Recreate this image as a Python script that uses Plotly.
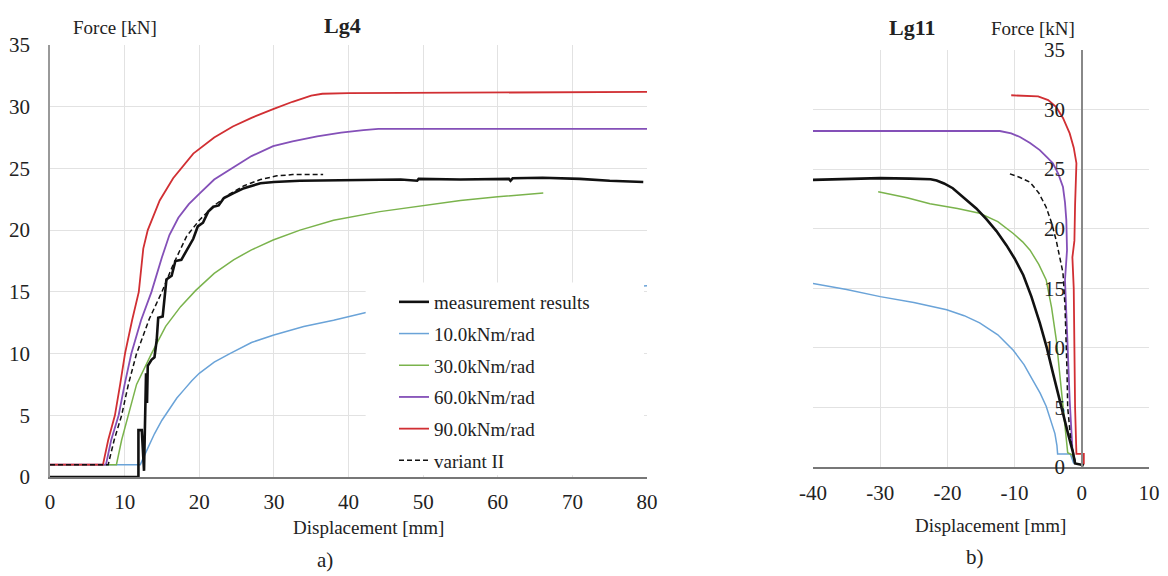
import plotly.graph_objects as go

# ---------------- Lg4 (left panel) ----------------
lg4_meas_x = [0, 11.85, 11.85, 12.3, 12.6, 12.87, 13.0, 13.1, 13.6, 14.0, 14.3, 14.5, 15.1, 15.6,
              16.3, 16.8, 17.6, 18.3, 19.2, 19.8, 20.5, 21.2, 21.9, 22.6, 23.3, 24.6, 26.0, 28.2,
              30.0, 33.5, 40.0, 47.0, 49.2, 49.4, 55.0, 61.5, 61.7, 62.0, 66.0, 71.0, 75.0, 79.5]
lg4_meas_y = [0, 0, 3.8, 3.8, 0.5, 8.4, 6.0, 9.0, 9.5, 9.7, 11.1, 12.9, 13.0, 16.0,
              16.3, 17.5, 17.6, 18.3, 19.3, 20.3, 20.6, 21.5, 21.9, 22.0, 22.6, 23.0, 23.4, 23.8,
              23.9, 24.0, 24.05, 24.1, 24.0, 24.15, 24.1, 24.15, 24.0, 24.2, 24.25, 24.15, 24.0, 23.9]

lg4_k10_x = [0, 12.1, 13.0, 14.0, 15.0, 16.0, 17.0, 18.0, 19.0, 20.0, 22.0, 24.1, 27.0, 30.0,
             34.0, 38.0, 42.2, 50.0, 60.0, 70.0, 80.0]
lg4_k10_y = [1, 1, 2.2, 3.5, 4.6, 5.5, 6.4, 7.1, 7.8, 8.4, 9.3, 10.0, 10.9, 11.5,
             12.2, 12.7, 13.3, 14.0, 14.7, 15.1, 15.5]

lg4_k30_x = [0, 8.9, 9.6, 10.5, 11.6, 13.6, 15.5, 17.5, 19.5, 22.0, 24.6, 27.0, 29.9, 33.5,
             38.0, 44.2, 50.0, 55.0, 60.0, 66.1]
lg4_k30_y = [1, 1, 3.0, 5.0, 7.5, 10.0, 12.2, 13.8, 15.1, 16.5, 17.6, 18.4, 19.2, 20.0,
             20.8, 21.5, 22.0, 22.4, 22.7, 23.0]

lg4_k60_x = [0, 7.5, 8.2, 9.2, 10.0, 10.9, 12.2, 13.6, 15.0, 16.0, 17.2, 18.6, 20.1, 22.0,
             24.6, 27.0, 29.9, 32.5, 35.8, 39.0, 42.0, 44.0, 60.0, 80.0]
lg4_k60_y = [1, 1, 3.0, 5.0, 7.5, 10.0, 12.7, 15.0, 17.8, 19.6, 21.0, 22.1, 23.0, 24.1,
             25.1, 26.0, 26.8, 27.2, 27.6, 27.9, 28.1, 28.2, 28.2, 28.2]

lg4_k90_x = [0, 7.1, 7.8, 8.7, 9.4, 10.05, 11.0, 11.9, 12.5, 13.1, 14.7, 16.5, 19.2, 22.0,
             24.5, 27.0, 29.9, 32.5, 35.0, 36.5, 40.0, 60.0, 80.0]
lg4_k90_y = [1, 1, 3.0, 5.0, 7.5, 10.0, 12.7, 15.0, 18.5, 20.0, 22.4, 24.2, 26.2, 27.5,
             28.4, 29.1, 29.8, 30.4, 30.9, 31.05, 31.1, 31.15, 31.2]

lg4_var2_x = [0, 7.8, 8.6, 9.6, 10.5, 11.6, 13.3, 15.0, 16.5, 18.3, 20.0, 22.0, 24.0, 26.0,
              28.2, 30.4, 32.5, 36.6]
lg4_var2_y = [1, 1, 3.0, 5.0, 7.5, 10.0, 12.8, 15.0, 17.2, 19.5, 20.8, 22.0, 22.9, 23.6,
              24.1, 24.4, 24.5, 24.5]

# ---------------- Lg11 (right panel) ----------------
lg11_meas_x = [-40, -33, -30, -25.6, -22.5, -21.6, -20.5, -19.2, -18.2, -17.2, -16.4, -15.7, -14.2,
               -12.7, -11.2, -10.0, -8.7, -7.5, -6.25, -5.2, -4.3, -3.5, -2.8, -2.0, -1.3, -1.0, 0.3]
lg11_meas_y = [24.1, 24.2, 24.25, 24.2, 24.15, 24.05, 23.8, 23.4, 22.9, 22.4, 22.0, 21.7, 20.8,
               19.8, 18.6, 17.5, 16.1, 14.3, 12.1, 10.0, 7.9, 6.0, 4.5, 2.7, 1.2, 0.3, 0.15]

lg11_k10_x = [-40, -35, -30, -25, -20.1, -17.5, -15.2, -12.5, -10.2, -8.6, -7.3, -6.2, -5.3,
              -4.5, -4.0, -3.7, -3.6, -1.7, -1.2]
lg11_k10_y = [15.4, 14.9, 14.3, 13.8, 13.2, 12.7, 12.1, 11.1, 9.8, 8.6, 7.3, 6.2, 5.1,
              3.8, 2.8, 1.8, 1.1, 1.1, 0.3]

lg11_k30_x = [-30.3, -26, -22.6, -18.5, -15.2, -12.5, -10.2, -8.8, -7.7, -6.4, -5.3, -4.5,
              -3.8, -3.3, -2.8, -2.4, -2.1, -1.4, -1.0]
lg11_k30_y = [23.1, 22.6, 22.1, 21.7, 21.3, 20.6, 19.6, 18.9, 18.2, 17.0, 15.7, 13.4,
              10.7, 8.0, 5.1, 3.0, 1.2, 1.0, 0.3]

lg11_k60_x = [-40, -12.2, -10.5, -9.2, -7.7, -6.25, -5.2, -4.3, -3.5, -2.8, -2.5, -2.3, -2.2,
              -2.5, -2.1, -1.8, -1.4, -1.0]
lg11_k60_y = [28.2, 28.2, 28.0, 27.7, 27.2, 26.6, 26.0, 25.5, 24.6, 23.5, 22.2, 20.7, 18.2,
              15.7, 10.0, 5.6, 1.5, 0.3]

lg11_k90_x = [0.3, 0.3, -0.8, -1.0, -1.1, -1.2, -1.4, -1.1, -1.0, -0.8, -1.2, -1.8, -2.8, -3.8,
              -5.0, -6.5, -10.5]
lg11_k90_y = [0.2, 1.1, 1.1, 5.0, 10.0, 15.0, 17.6, 19.0, 22.0, 25.5, 26.8, 28.0, 29.3, 30.2,
              30.8, 31.1, 31.2]

lg11_var2_x = [-10.7, -9.2, -7.7, -6.4, -5.3, -4.5, -3.8, -3.2, -2.8, -2.5, -2.3, -2.2, -2.1,
               -1.6, -1.0]
lg11_var2_y = [24.6, 24.3, 23.9, 23.0, 21.8, 20.5, 19.0, 17.5, 16.3, 13.5, 10.7, 8.0, 5.0,
               2.0, 0.5]

# axis ticks
force_ticks = [0, 5, 10, 15, 20, 25, 30, 35]
lg4_disp_ticks = [0, 10, 20, 30, 40, 50, 60, 70, 80]
lg11_disp_ticks = [-40, -30, -20, -10, 0, 10]
lg11_disp_labels = ["-40", "-30", "-20", "-10", "0", "10"]

series_names = ["measurement results", "10.0kNm/rad", "30.0kNm/rad", "60.0kNm/rad", "90.0kNm/rad", "variant II"]
colors = ["#111111", "#6aa3d8", "#7ab34c", "#8450b8", "#d12f33", "#111111"]
widths = [2.6, 1.5, 1.5, 1.8, 1.8, 1.5]
dashes = ["solid", "solid", "solid", "solid", "solid", "5px,3px"]

left_data = [(lg4_meas_x, lg4_meas_y), (lg4_k10_x, lg4_k10_y), (lg4_k30_x, lg4_k30_y),
             (lg4_k60_x, lg4_k60_y), (lg4_k90_x, lg4_k90_y), (lg4_var2_x, lg4_var2_y)]
right_data = [(lg11_meas_x, lg11_meas_y), (lg11_k10_x, lg11_k10_y), (lg11_k30_x, lg11_k30_y),
              (lg11_k60_x, lg11_k60_y), (lg11_k90_x, lg11_k90_y), (lg11_var2_x, lg11_var2_y)]

SERIF = "Liberation Serif, Times New Roman, serif"
W, H = 1168, 576

fig = go.Figure()
# draw order: models first, measurement on top
order = [1, 2, 3, 4, 5, 0]
for i in order:
    xs, ys = left_data[i]
    fig.add_trace(go.Scatter(x=xs, y=ys, mode="lines", name=series_names[i],
                             line=dict(color=colors[i], width=widths[i], dash=dashes[i]),
                             legendgroup=f"g{i}", legendrank=i + 1,
                             xaxis="x", yaxis="y"))
for i in order:
    xs, ys = right_data[i]
    fig.add_trace(go.Scatter(x=xs, y=ys, mode="lines", name=series_names[i], showlegend=False,
                             line=dict(color=colors[i], width=widths[i], dash=dashes[i]),
                             legendgroup=f"g{i}", xaxis="x2", yaxis="y2"))

def px_x(p):
    return p / W

def px_y(p):
    return 1 - p / H

grid = "#e2e2e2"
tickfont = dict(family=SERIF, size=21, color="#222")
common = dict(showgrid=True, gridcolor=grid, gridwidth=1, zeroline=False, showline=True,
              linewidth=1.5, tickfont=tickfont, automargin=False, ticks="")

fig.update_layout(
    template="none",
    width=W, height=H,
    margin=dict(l=0, r=0, t=0, b=0),
    paper_bgcolor="white", plot_bgcolor="white",
    font=dict(family=SERIF, color="#222"),
    showlegend=True,
    legend=dict(x=px_x(394), y=px_y(283), xanchor="left", yanchor="top",
                bgcolor="rgba(0,0,0,0)", font=dict(family=SERIF, size=19, color="#222"),
                traceorder="grouped", tracegroupgap=4, itemwidth=30),
    xaxis=dict(domain=[px_x(50), px_x(647)], range=[0, 80], tickvals=lg4_disp_ticks, anchor="y",
               linecolor="#777", ticklabelstandoff=5, **common),
    yaxis=dict(domain=[px_y(477), px_y(45)], range=[0, 35], tickvals=force_ticks, anchor="x",
               linecolor="#999", ticklabelstandoff=14, **common),
    xaxis2=dict(domain=[px_x(813), px_x(1149)], range=[-40, 10], tickvals=lg11_disp_ticks,
                ticktext=lg11_disp_labels, anchor="y2",
                linecolor="#777", ticklabelstandoff=6, **common),
    yaxis2=dict(domain=[px_y(467), px_y(50)], range=[0, 35], tickvals=force_ticks, anchor="free",
                position=px_x(1082), side="left",
                linecolor="#888", ticklabelstandoff=12, **common),
)

# white panel behind the legend (covers curves and grid there)
fig.add_shape(type="rect", xref="x", yref="y", x0=42.3, x1=79.6, y0=0.15, y1=15.75,
              fillcolor="white", line=dict(width=0), layer="above")

def label(text, x, y, size, bold=False):
    fig.add_annotation(text=f"<b>{text}</b>" if bold else text, xref="paper", yref="paper",
                       x=px_x(x), y=px_y(y), xanchor="center", yanchor="middle", showarrow=False,
                       font=dict(family=SERIF, size=size, color="#222"))

label("Force [kN]", 115, 27, 19)
label("Lg4", 342, 25, 22, bold=True)
label("Displacement [mm]", 368, 527, 19)
label("a)", 325, 560, 21)
label("Force [kN]", 1033, 28, 19)
label("Lg11", 912, 27, 22, bold=True)
label("Displacement [mm]", 990, 525, 19)
label("b)", 975, 557, 21)

fig.write_html("out.html")
